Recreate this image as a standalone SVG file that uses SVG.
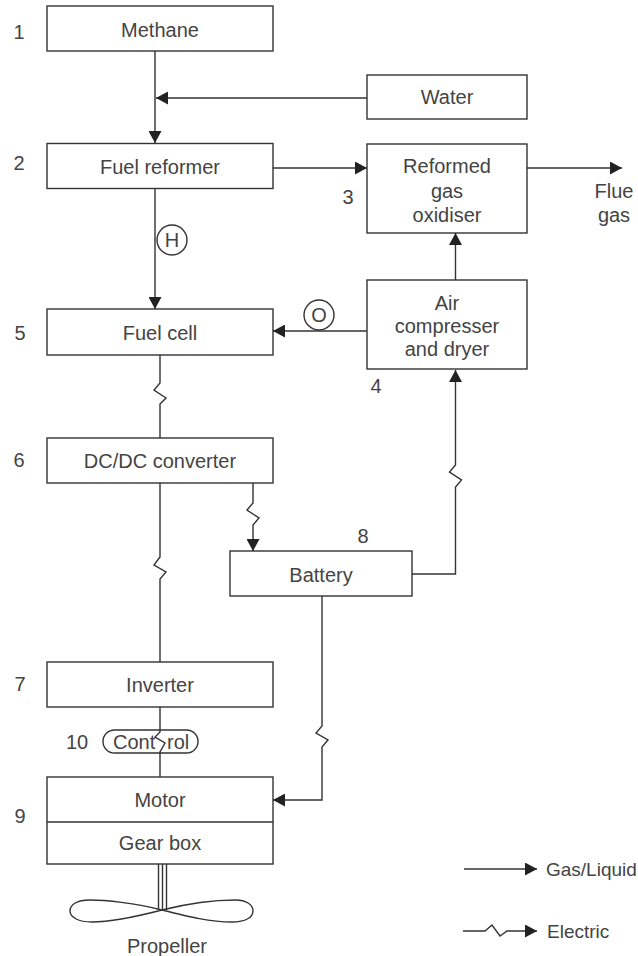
<svg xmlns="http://www.w3.org/2000/svg" width="638" height="956" viewBox="0 0 638 956">
<style>
text{font-family:"Liberation Sans",Arial,sans-serif;font-size:20px;fill:#444;text-anchor:middle}
.s{fill:none;stroke:#333;stroke-width:1.4}
.b{fill:#fff;stroke:#333;stroke-width:1.4}
.l{text-anchor:start}
</style>
<defs><marker id="a" markerUnits="userSpaceOnUse" markerWidth="13" markerHeight="13" refX="12" refY="6.5" orient="auto"><path d="M0 0L12 6.5L0 13Z" fill="#222"/></marker></defs>
<rect width="638" height="956" fill="#fff"/>
<g id="connectors">
<path class="s" marker-end="url(#a)" d="M155 51V143"/>
<path class="s" marker-end="url(#a)" d="M367 98H156"/>
<path class="s" marker-end="url(#a)" d="M155 188V309"/>
<path class="s" marker-end="url(#a)" d="M273 168H367"/>
<path class="s" marker-end="url(#a)" d="M527 168H622"/>
<path class="s" marker-end="url(#a)" d="M455.500 280V233"/>
<path class="s" marker-end="url(#a)" d="M367 331H273"/>
<path class="s" d="M160 355V383L154 390L166 398L160 404V438"/>
<path class="s" marker-end="url(#a)" d="M253 483V503L247 510L259 518L253 525V551"/>
<path class="s" d="M160 483V557L154 565L166 572L160 579V662"/>
<path class="s" marker-end="url(#a)" d="M412 574H455.500V487L461.500 480L449.500 472L455.500 465V370"/>
<path class="s" marker-end="url(#a)" d="M322 596V726L316 733L328 740L322 747V800H273"/>
<path class="s" d="M160 707V732L155 737L165 743L160 752V777"/>
<path class="s" d="M158.500 864V910M162.500 864V910M166.500 864V910"/>
<path class="s" marker-end="url(#a)" d="M464 869H537"/>
<path class="s" marker-end="url(#a)" d="M463 931H485L492 925L500 936L507 931H537"/>
</g>
<g id="n1"><rect class="b" x="47" y="6" width="226" height="45"/><text x="160" y="37">Methane</text></g>
<g id="n-water"><rect class="b" x="367" y="75" width="160" height="44"/><text x="447" y="104">Water</text></g>
<g id="n2"><rect class="b" x="47" y="143.500" width="226" height="45"/><text x="160" y="174">Fuel reformer</text></g>
<g id="n3"><rect class="b" x="367" y="144" width="160" height="89"/><text x="447" y="173">Reformed</text><text x="447" y="198">gas</text><text x="447" y="222">oxidiser</text></g>
<g id="n4"><rect class="b" x="367" y="280" width="160" height="89"/><text x="447" y="310">Air</text><text x="447" y="333">compresser</text><text x="447" y="356">and dryer</text></g>
<g id="n5"><rect class="b" x="47" y="309" width="226" height="46"/><text x="160" y="340">Fuel cell</text></g>
<g id="n6"><rect class="b" x="47" y="438" width="226" height="45"/><text x="160" y="468">DC/DC converter</text></g>
<g id="n8"><rect class="b" x="230" y="551" width="182" height="45"/><text x="321" y="582">Battery</text></g>
<g id="n7"><rect class="b" x="47" y="662" width="226" height="45"/><text x="160" y="692">Inverter</text></g>
<g id="n9"><rect class="b" x="47" y="777" width="226" height="87"/><path class="s" d="M47 822H273"/><text x="160" y="807">Motor</text><text x="160" y="850">Gear box</text></g>
<g id="n10"><rect class="s" x="103" y="730" width="95" height="23" rx="11.500"/><text class="l" x="113" y="749">Cont</text><text class="l" x="167" y="749">rol</text></g>
<g id="h"><circle class="b" cx="172" cy="240" r="15"/><text x="172" y="247">H</text></g>
<g id="o"><circle class="b" cx="319" cy="315" r="15"/><text x="319" y="322">O</text></g>
<g id="propeller"><path class="s" d="M162 910C135 903 105 900 90 900C76 900 70 905 70 911C70 917 78 922 92 922C110 922 135 917 162 910C190 903 215 900 235 900C247 900 253 905 253 911C253 917 246 922 232 922C210 922 190 917 162 910Z"/></g>
<text x="19" y="39">1</text><text x="19" y="170">2</text><text x="348" y="204">3</text><text x="376" y="393">4</text><text x="20" y="340">5</text><text x="19" y="467">6</text><text x="20" y="691">7</text><text x="363" y="543">8</text><text x="20" y="823">9</text><text x="77" y="749">10</text>
<text x="614" y="198">Flue</text><text x="614" y="222">gas</text>
<text x="167" y="953">Propeller</text>
<text class="l" x="546" y="876" style="font-size:19px">Gas/Liquid</text><text class="l" x="547" y="938" style="font-size:19px">Electric</text>
</svg>
